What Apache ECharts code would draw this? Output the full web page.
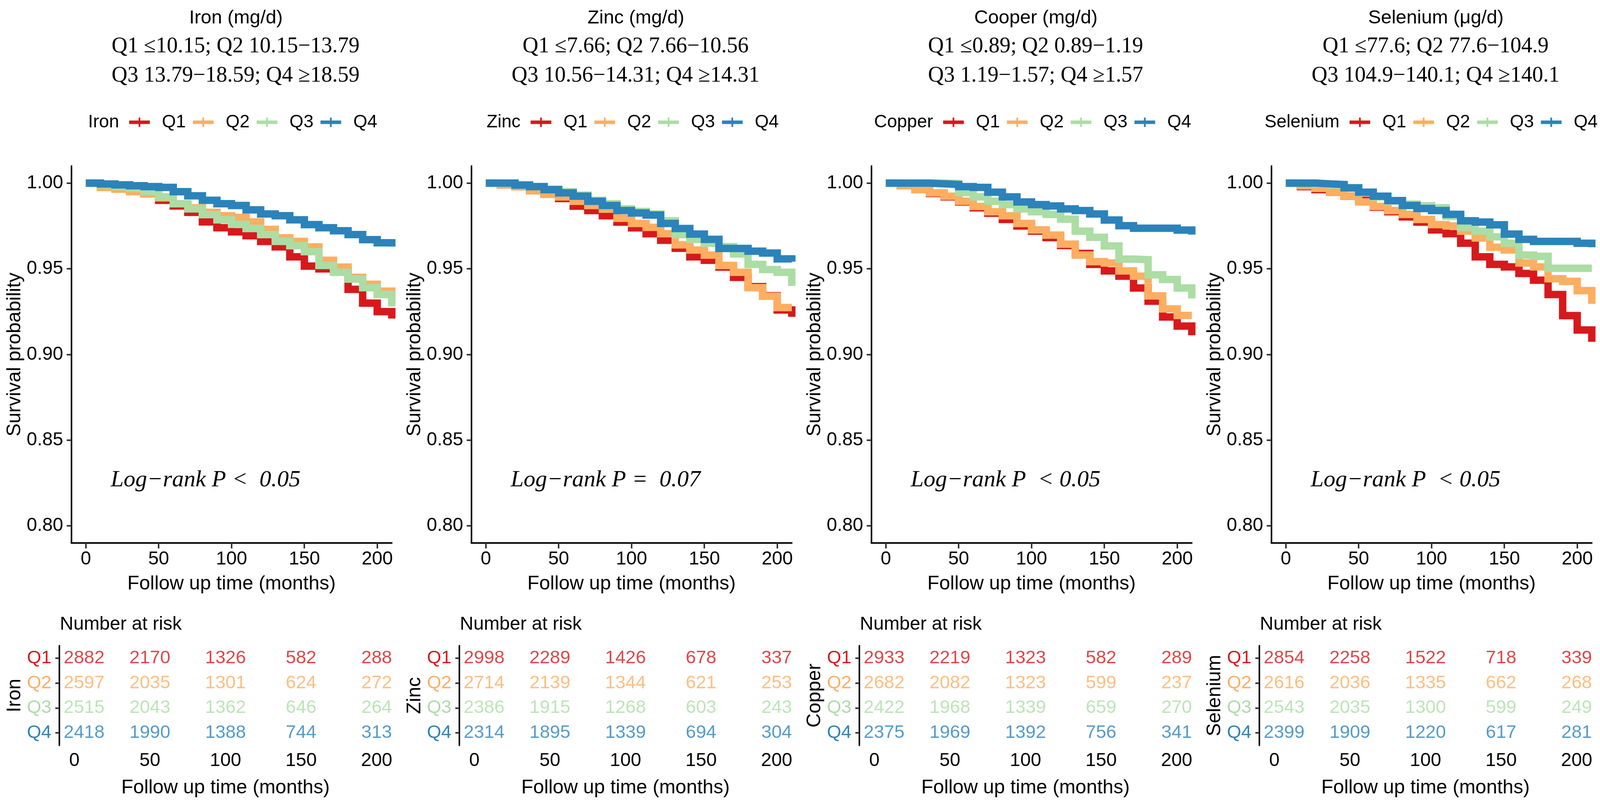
<!DOCTYPE html>
<html>
<head>
<meta charset="utf-8">
<script src="https://cdn.jsdelivr.net/npm/echarts@6.0.0/dist/echarts.min.js"></script>
<style>
  html, body { margin: 0; padding: 0; background: #fff; overflow: hidden; }
  #chart { width: 100vw; height: 100vh; }
</style>
</head>
<body>
<div id="chart"></div>
<script>
const months = [0, 10, 20, 30, 40, 50, 60, 70, 80, 90, 100, 110, 120, 130, 140, 150, 160, 170, 180, 190, 200, 210];
const quartiles = ['Q1', 'Q2', 'Q3', 'Q4'];
const colors = ['#D7191C', '#FDAE61', '#ABDDA4', '#2B83BA'];
const xTicks = [0, 50, 100, 150, 200];
const yTicks = [0.80, 0.85, 0.90, 0.95, 1.00];
const riskTimes = [0, 50, 100, 150, 200];

// survival probability
const ironQ1 = [1.000, 0.999, 0.9977, 0.996, 0.9937, 0.990, 0.9867, 0.983, 0.9774, 0.974, 0.9716, 0.9693, 0.966, 0.9628, 0.957, 0.9516, 0.950, 0.949, 0.938, 0.930, 0.925, 0.921];
const ironQ2 = [1.000, 0.9975, 0.9965, 0.995, 0.9937, 0.9914, 0.988, 0.9856, 0.983, 0.981, 0.980, 0.9774, 0.973, 0.9681, 0.966, 0.9628, 0.955, 0.951, 0.945, 0.941, 0.937, 0.930];
const ironQ3 = [1.000, 0.999, 0.998, 0.997, 0.995, 0.992, 0.988, 0.985, 0.9816, 0.9786, 0.976, 0.9735, 0.970, 0.966, 0.9635, 0.960, 0.952, 0.948, 0.944, 0.939, 0.935, 0.928];
const ironQ4 = [1.000, 0.9995, 0.999, 0.9985, 0.998, 0.9975, 0.995, 0.9926, 0.990, 0.988, 0.987, 0.9844, 0.982, 0.981, 0.9786, 0.9758, 0.974, 0.9722, 0.970, 0.967, 0.9652, 0.963];

const zincQ1 = [1.000, 0.999, 0.998, 0.996, 0.9936, 0.991, 0.9866, 0.984, 0.981, 0.9773, 0.9739, 0.9705, 0.9667, 0.962, 0.957, 0.955, 0.951, 0.945, 0.9396, 0.9343, 0.926, 0.922];
const zincQ2 = [1.000, 0.999, 0.998, 0.9955, 0.9936, 0.992, 0.9894, 0.987, 0.9848, 0.9795, 0.9765, 0.9742, 0.9705, 0.964, 0.961, 0.958, 0.952, 0.948, 0.939, 0.934, 0.9274, 0.9274];
const zincQ3 = [1.000, 1.000, 0.999, 0.998, 0.9965, 0.995, 0.993, 0.990, 0.988, 0.985, 0.9835, 0.982, 0.978, 0.970, 0.9672, 0.9649, 0.963, 0.9587, 0.9526, 0.9496, 0.948, 0.940];
const zincQ4 = [1.000, 1.000, 0.9989, 0.998, 0.9962, 0.9943, 0.9924, 0.9894, 0.987, 0.984, 0.9826, 0.9814, 0.9765, 0.9735, 0.9703, 0.9672, 0.9619, 0.9619, 0.9603, 0.9592, 0.9558, 0.9542];

const copperQ1 = [1.000, 0.9985, 0.9962, 0.994, 0.992, 0.989, 0.9856, 0.9825, 0.9788, 0.975, 0.972, 0.9682, 0.9636, 0.959, 0.9526, 0.9488, 0.9457, 0.9388, 0.9311, 0.9219, 0.9166, 0.9112];
const copperQ2 = [1.000, 0.9985, 0.9962, 0.9943, 0.9924, 0.9894, 0.9864, 0.9833, 0.981, 0.9765, 0.9727, 0.9697, 0.9644, 0.958, 0.9542, 0.9534, 0.9488, 0.9457, 0.9342, 0.9266, 0.9228, 0.9228];
const copperQ3 = [1.000, 1.000, 1.000, 1.000, 0.9998, 0.9945, 0.992, 0.9895, 0.9875, 0.985, 0.9833, 0.9818, 0.979, 0.972, 0.9684, 0.9634, 0.9557, 0.9553, 0.9465, 0.9438, 0.9388, 0.9327];
const copperQ4 = [1.000, 1.000, 1.000, 0.9996, 0.9992, 0.998, 0.9975, 0.9947, 0.992, 0.989, 0.9875, 0.9867, 0.985, 0.984, 0.982, 0.9785, 0.9752, 0.9737, 0.9737, 0.9737, 0.9726, 0.970];

const seleniumQ1 = [1.000, 0.998, 0.9962, 0.9947, 0.9924, 0.990, 0.986, 0.9833, 0.9803, 0.9773, 0.9727, 0.9705, 0.965, 0.957, 0.9526, 0.9511, 0.9473, 0.9434, 0.935, 0.9227, 0.9143, 0.9074];
const seleniumQ2 = [1.000, 0.9985, 0.997, 0.9947, 0.9924, 0.989, 0.9864, 0.984, 0.9818, 0.9788, 0.9758, 0.975, 0.972, 0.968, 0.9626, 0.961, 0.9534, 0.9511, 0.9442, 0.9427, 0.9373, 0.9296];
const seleniumQ3 = [1.000, 1.000, 0.9995, 0.999, 0.997, 0.9945, 0.992, 0.9895, 0.9878, 0.9868, 0.9856, 0.9807, 0.9742, 0.972, 0.9687, 0.9649, 0.958, 0.9573, 0.9503, 0.9503, 0.9503, 0.9503];
const seleniumQ4 = [1.000, 1.000, 0.9996, 0.9992, 0.9973, 0.9947, 0.9924, 0.9898, 0.987, 0.9852, 0.984, 0.9818, 0.978, 0.9773, 0.9757, 0.9703, 0.9672, 0.966, 0.966, 0.966, 0.9649, 0.9626];

// number at risk at 0, 50, 100, 150, 200 months
const ironRisk = [[2882, 2170, 1326, 582, 288], [2597, 2035, 1301, 624, 272], [2515, 2043, 1362, 646, 264], [2418, 1990, 1388, 744, 313]];
const zincRisk = [[2998, 2289, 1426, 678, 337], [2714, 2139, 1344, 621, 253], [2386, 1915, 1268, 603, 243], [2314, 1895, 1339, 694, 304]];
const copperRisk = [[2933, 2219, 1323, 582, 289], [2682, 2082, 1323, 599, 237], [2422, 1968, 1339, 659, 270], [2375, 1969, 1392, 756, 341]];
const seleniumRisk = [[2854, 2258, 1522, 718, 339], [2616, 2036, 1335, 662, 268], [2543, 2035, 1300, 599, 249], [2399, 1909, 1220, 617, 281]];

const groupNames = ['Iron', 'Zinc', 'Copper', 'Selenium'];
const titles = ['Iron (mg/d)', 'Zinc (mg/d)', 'Cooper (mg/d)', 'Selenium (μg/d)'];
const cutLine1 = ['Q1 ≤10.15; Q2 10.15−13.79', 'Q1 ≤7.66; Q2 7.66−10.56', 'Q1 ≤0.89; Q2 0.89−1.19', 'Q1 ≤77.6; Q2 77.6−104.9'];
const cutLine2 = ['Q3 13.79−18.59; Q4 ≥18.59', 'Q3 10.56−14.31; Q4 ≥14.31', 'Q3 1.19−1.57; Q4 ≥1.57', 'Q3 104.9−140.1; Q4 ≥140.1'];
const pTexts = ['Log−rank P <  0.05', 'Log−rank P =  0.07', 'Log−rank P  < 0.05', 'Log−rank P  < 0.05'];

const survival = [
  [ironQ1, ironQ2, ironQ3, ironQ4],
  [zincQ1, zincQ2, zincQ3, zincQ4],
  [copperQ1, copperQ2, copperQ3, copperQ4],
  [seleniumQ1, seleniumQ2, seleniumQ3, seleniumQ4]
];
const risks = [ironRisk, zincRisk, copperRisk, seleniumRisk];

const SANS = '"Liberation Sans", Arial, sans-serif';
const SERIF = '"Liberation Serif", "Times New Roman", serif';

const dom = document.getElementById('chart');
const W = dom.clientWidth || 4917, H = dom.clientHeight || 2071;
// layout was measured on a 4917 x 2071 picture; fit it to the real window
const sx = W / 4917, sy = H / 2071, fs = Math.min(1, (sx + sy) / 2 - 0.035);
const X = v => v * sx, Y = v => v * sy, F = v => Math.round(v * fs);
const PANEL_W = W / 4;

const measure = document.createElement('canvas').getContext('2d');
measure.font = F(52) + 'px "Liberation Sans"';

const chart = echarts.init(dom, null, { renderer: 'canvas' });

const grid = [], xAxis = [], yAxis = [], series = [], legend = [], graphic = [];

function valueXAxis(gi, margin, nameGap) {
  return {
    type: 'value', gridIndex: gi, min: -10, max: 210,
    axisLine: { onZero: false, lineStyle: { color: '#000', width: 4 } },
    axisTick: { customValues: xTicks, length: Y(14), lineStyle: { color: '#333', width: 4 } },
    axisLabel: { customValues: xTicks, fontSize: F(54), color: '#000', fontFamily: SANS, margin: Y(margin) },
    splitLine: { show: false },
    name: 'Follow up time (months)', nameLocation: 'middle', nameGap: Y(nameGap),
    nameTextStyle: { fontSize: F(57), color: '#000', fontFamily: SANS }
  };
}

const iconW = F(60), iconH = F(27);
const legendIcon = 'path://M0,8.5H60V18.5H0Z M27.5,0H32.5V27H27.5Z';

for (let k = 0; k < 4; k++) {
  const off = k * PANEL_W;
  const gPlot = 2 * k, gTable = 2 * k + 1;

  grid.push({ left: X(219) + off, top: Y(425), width: X(985), height: Y(965) });
  grid.push({ left: X(182) + off, top: Y(1653), width: X(1022), height: Y(255) });

  xAxis.push(valueXAxis(gPlot, 18, 80));
  xAxis.push(valueXAxis(gTable, 16, 84));

  yAxis.push({
    type: 'value', gridIndex: gPlot, min: 0.79, max: 1.01,
    axisLine: { show: true, onZero: false, lineStyle: { color: '#000', width: 4 } },
    axisTick: { show: true, customValues: yTicks, length: X(14), lineStyle: { color: '#333', width: 4 } },
    axisLabel: { customValues: yTicks, formatter: v => v.toFixed(2), fontSize: F(54), color: '#000', fontFamily: SANS, margin: X(25) },
    splitLine: { show: false },
    name: 'Survival probability', nameLocation: 'middle', nameRotate: 90,
    nameGap: X(219 - 46) - F(57) / 2,
    nameTextStyle: { fontSize: F(57), color: '#000', fontFamily: SANS }
  });
  yAxis.push({
    type: 'category', gridIndex: gTable, data: quartiles, inverse: true,
    axisLine: { show: true, onZero: false, lineStyle: { color: '#000', width: 4 } },
    axisTick: { show: true, alignWithLabel: true, interval: 0, length: X(12), lineStyle: { color: '#333', width: 4 } },
    axisLabel: { interval: 0, fontSize: F(53), fontFamily: SANS, margin: X(24), color: v => colors[quartiles.indexOf(v)] },
    name: groupNames[k], nameLocation: 'middle', nameRotate: 90,
    nameGap: X(182 - 46) - F(57) / 2,
    nameTextStyle: { fontSize: F(57), color: '#000', fontFamily: SANS }
  });

  quartiles.forEach((q, i) => {
    series.push({
      name: q, type: 'line', xAxisIndex: gPlot, yAxisIndex: gPlot,
      step: 'end', showSymbol: false, silent: true, animation: false, z: 2 + i,
      data: months.map((t, j) => [t, survival[k][i][j]]),
      itemStyle: { color: colors[i] },
      lineStyle: { color: colors[i], width: Y(19), cap: 'butt', join: 'miter' }
    });
    series.push({
      name: q + ' at risk', type: 'scatter', xAxisIndex: gTable, yAxisIndex: gTable,
      symbolSize: 1, silent: true, animation: false,
      itemStyle: { color: 'rgba(0,0,0,0)' },
      label: { show: true, position: 'inside', formatter: p => String(p.value[2]), fontSize: F(53), fontFamily: SANS, color: colors[i] },
      // the first column sits a little right of its tick in the original table
      data: riskTimes.map((t, j) => j === 0
        ? { value: [t, q, risks[k][i][j]], label: { offset: [X(30), 0] } }
        : [t, q, risks[k][i][j]])
    });
  });

  // legend: title text + four items, centred over the panel
  const wTitle = measure.measureText(groupNames[k]).width;
  const wQ = measure.measureText('Q1').width;
  const pad = F(30), gapT = X(31);
  const itemGap = Math.max(8, X(196) - (iconW + 5 + pad + wQ));
  const total = wTitle + gapT + 4 * (iconW + 5 + pad + wQ) + 3 * itemGap;
  const legendLeft = Math.min(X(715) + off - total / 2, W - total - 6);
  graphic.push({
    type: 'text', x: legendLeft, y: Y(313),
    style: { text: groupNames[k], fontSize: F(52), fontFamily: SANS, fill: '#000', align: 'left', verticalAlign: 'middle' }
  });
  legend.push({
    data: quartiles, left: legendLeft + wTitle + gapT, top: Y(313) - F(52) / 2, padding: 0,
    width: total + 60, orient: 'horizontal', icon: legendIcon, itemWidth: iconW, itemHeight: iconH, itemGap: itemGap,
    selectedMode: false, itemStyle: { borderWidth: 0 },
    textStyle: { fontSize: F(52), color: '#000', fontFamily: SANS, padding: [0, 0, 0, pad] }
  });

  graphic.push(
    { type: 'text', x: X(725) + off, y: Y(46),
      style: { text: titles[k], fontSize: F(56), fontFamily: SANS, fill: '#000', align: 'center', verticalAlign: 'middle' } },
    { type: 'text', x: X(724) + off, y: Y(119),
      style: { text: cutLine1[k], fontSize: F(63), fontFamily: SERIF, fill: '#000', align: 'center', verticalAlign: 'middle' } },
    { type: 'text', x: X(724) + off, y: Y(194),
      style: { text: cutLine2[k], fontSize: F(63), fontFamily: SERIF, fill: '#000', align: 'center', verticalAlign: 'middle' } },
    { type: 'text', x: X(340) + off, y: Y(1229),
      style: { text: pTexts[k], fontSize: F(68), fontFamily: SERIF, fontStyle: 'italic', fill: '#000', align: 'left', verticalAlign: 'middle' } },
    { type: 'text', x: X(184) + off, y: Y(1599),
      style: { text: 'Number at risk', fontSize: F(54), fontFamily: SANS, fill: '#000', align: 'left', verticalAlign: 'middle' } }
  );
}

chart.setOption({
  backgroundColor: '#fff',
  animation: false,
  grid: grid,
  xAxis: xAxis,
  yAxis: yAxis,
  legend: legend,
  series: series,
  graphic: graphic
});
</script>
</body>
</html>
